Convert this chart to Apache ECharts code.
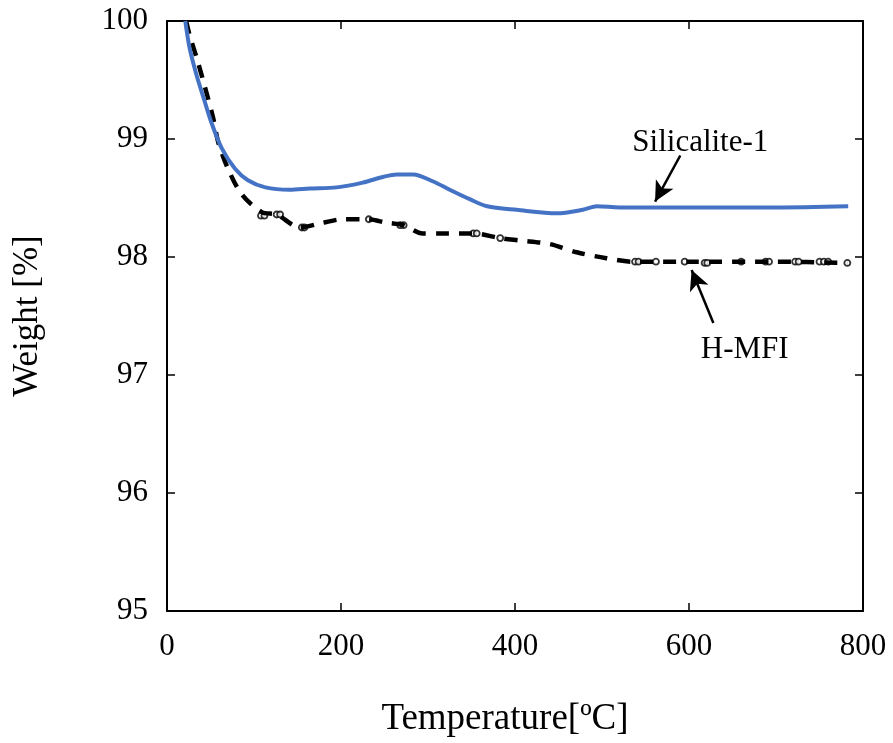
<!DOCTYPE html>
<html>
<head>
<meta charset="utf-8">
<script src="https://cdn.jsdelivr.net/npm/echarts@6/dist/echarts.min.js"></script>
<style>
  html, body { margin: 0; padding: 0; background: #fff; }
  #chart { width: 893px; height: 743px; }
</style>
</head>
<body>
<div id="chart"></div>
<script>
  // Silicalite-1 (blue solid)
  var siliTemp = [21, 26, 34, 42, 51, 63, 78, 93, 113, 141, 164, 195, 225, 249, 264, 283, 306, 325, 348, 368, 402, 448, 478, 494, 520, 600, 700, 783];
  var siliWeight = [100, 99.77, 99.54, 99.35, 99.14, 98.92, 98.75, 98.65, 98.59, 98.57, 98.58, 98.59, 98.63, 98.68, 98.70, 98.70, 98.64, 98.57, 98.49, 98.43, 98.40, 98.37, 98.40, 98.43, 98.42, 98.42, 98.42, 98.43];

  // H-MFI (black dashed)
  var mfiTemp = [22, 26, 34, 44, 53, 59, 70, 86, 109, 126, 153, 179, 202, 230, 253, 272, 294, 317, 352, 383, 406, 440, 471, 505, 536, 600, 700, 782];
  var mfiWeight = [100, 99.88, 99.69, 99.43, 99.18, 98.97, 98.75, 98.53, 98.38, 98.36, 98.25, 98.29, 98.32, 98.32, 98.29, 98.27, 98.20, 98.20, 98.20, 98.16, 98.14, 98.11, 98.04, 97.99, 97.96, 97.96, 97.96, 97.95];

  // small hollow circles along the H-MFI trace
  var mfiMarkTemp = [108, 112, 126, 130, 155, 158, 232, 268, 272, 352, 356, 383, 538, 542, 562, 595, 618, 621, 660, 688, 692, 722, 726, 750, 755, 760, 782];
  var mfiMarkWeight = [98.35, 98.35, 98.36, 98.36, 98.25, 98.25, 98.32, 98.27, 98.27, 98.20, 98.20, 98.16, 97.96, 97.96, 97.96, 97.96, 97.95, 97.95, 97.96, 97.96, 97.96, 97.96, 97.96, 97.96, 97.96, 97.96, 97.95];

  var xTicks = [0, 200, 400, 600, 800];
  var yTicks = [95, 96, 97, 98, 99, 100];

  function pairs(xs, ys) {
    var out = [];
    for (var i = 0; i < xs.length; i++) {
      out.push([xs[i], ys[i]]);
    }
    return out;
  }

  var font = 'Liberation Serif';
  var chart = echarts.init(document.getElementById('chart'));

  var axisLine = { show: true, onZero: false, lineStyle: { color: '#000', width: 2 } };
  var axisTick = { show: true, inside: true, length: 8, lineStyle: { color: '#000', width: 1.5 } };

  var option = {
    animation: false,
    backgroundColor: '#fff',
    grid: { left: 167, right: 30, top: 21, bottom: 132 },
    xAxis: [
      {
        type: 'value', min: xTicks[0], max: xTicks[xTicks.length - 1], interval: 200,
        position: 'bottom',
        name: 'Temperature[ºC]', nameLocation: 'middle', nameGap: 90,
        nameTextStyle: { fontFamily: font, fontSize: 37, color: '#000', padding: [0, 20, 0, 0] },
        axisLine: axisLine, axisTick: axisTick,
        axisLabel: { margin: 20, fontFamily: font, fontSize: 31, color: '#000' },
        splitLine: { show: false }
      },
      {
        type: 'value', min: xTicks[0], max: xTicks[xTicks.length - 1], interval: 200,
        position: 'top',
        axisLine: axisLine, axisTick: axisTick,
        axisLabel: { show: false }, splitLine: { show: false }
      }
    ],
    yAxis: [
      {
        type: 'value', min: yTicks[0], max: yTicks[yTicks.length - 1], interval: 1,
        position: 'left',
        name: 'Weight [%]', nameLocation: 'middle', nameGap: 122,
        nameTextStyle: { fontFamily: font, fontSize: 35, color: '#000' },
        axisLine: axisLine, axisTick: axisTick,
        axisLabel: { margin: 19, fontFamily: font, fontSize: 31, color: '#000' },
        splitLine: { show: false }
      },
      {
        type: 'value', min: yTicks[0], max: yTicks[yTicks.length - 1], interval: 1,
        position: 'right',
        axisLine: axisLine, axisTick: axisTick,
        axisLabel: { show: false }, splitLine: { show: false }
      }
    ],
    series: [
      {
        name: 'H-MFI',
        type: 'line',
        data: pairs(mfiTemp, mfiWeight),
        showSymbol: false,
        smooth: 0.3,
        lineStyle: { color: '#000', width: 4.5, type: [13, 10] },
        markLine: {
          silent: true,
          symbol: ['none', 'arrow'],
          symbolSize: [15, 20],
          lineStyle: { color: '#000', width: 2.5, type: 'solid' },
          label: { show: false },
          data: [
            [{ coord: [628, 97.44] }, { coord: [603, 97.89] }]
          ]
        },
        markPoint: {
          silent: true,
          symbol: 'circle', symbolSize: 0,
          label: { show: true, formatter: 'H-MFI', fontFamily: font, fontSize: 31, color: '#000' },
          data: [{ coord: [664, 97.21] }]
        }
      },
      {
        name: 'H-MFI marks',
        type: 'scatter',
        data: pairs(mfiMarkTemp, mfiMarkWeight),
        symbol: 'circle',
        symbolSize: 6,
        itemStyle: { color: '#fff', borderColor: '#000', borderWidth: 1.8 }
      },
      {
        name: 'Silicalite-1',
        type: 'line',
        data: pairs(siliTemp, siliWeight),
        showSymbol: false,
        smooth: 0.3,
        lineStyle: { color: '#4472C4', width: 4 },
        markLine: {
          silent: true,
          symbol: ['none', 'arrow'],
          symbolSize: [15, 20],
          lineStyle: { color: '#000', width: 2.5, type: 'solid' },
          label: { show: false },
          data: [
            [{ coord: [590, 98.86] }, { coord: [561, 98.47] }]
          ]
        },
        markPoint: {
          silent: true,
          symbol: 'circle', symbolSize: 0,
          label: { show: true, formatter: 'Silicalite-1', fontFamily: font, fontSize: 31, color: '#000' },
          data: [{ coord: [613, 98.97] }]
        }
      }
    ]
  };

  chart.setOption(option);
</script>
</body>
</html>
